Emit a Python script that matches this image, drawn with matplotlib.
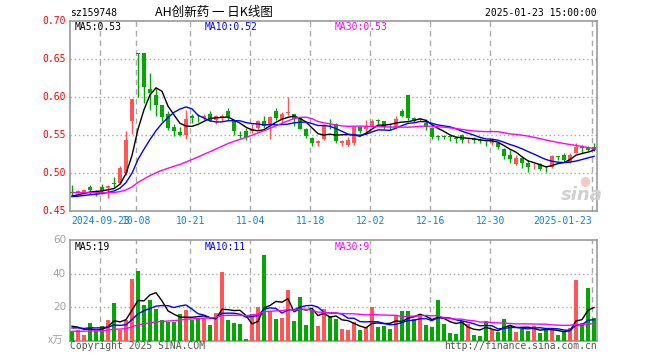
import matplotlib
matplotlib.use("Agg")
import matplotlib.pyplot as plt
import numpy as np
import pandas as pd

# 日K数据 (2024-09-12 .. 2025-01-23)
opens = [0.475, 0.474, 0.474, 0.482, 0.476, 0.482, 0.480, 0.487, 0.487, 0.500,
         0.568, 0.657, 0.657, 0.610, 0.602, 0.589, 0.578, 0.561, 0.554, 0.550,
         0.575, 0.573, 0.572, 0.578, 0.570, 0.572, 0.581, 0.569, 0.550, 0.555,
         0.555, 0.559, 0.569, 0.564, 0.581, 0.571, 0.579, 0.577, 0.572, 0.558,
         0.546, 0.539, 0.545, 0.565, 0.564, 0.539, 0.537, 0.539, 0.560, 0.558,
         0.562, 0.570, 0.568, 0.561, 0.559, 0.581, 0.602, 0.572, 0.570, 0.566,
         0.559, 0.549, 0.549, 0.549, 0.546, 0.550, 0.543, 0.545, 0.543, 0.540,
         0.539, 0.539, 0.532, 0.524, 0.512, 0.520, 0.514, 0.509, 0.512, 0.506,
         0.508, 0.522, 0.524, 0.515, 0.527, 0.534, 0.533, 0.534]
highs = [0.484, 0.478, 0.479, 0.484, 0.478, 0.486, 0.484, 0.495, 0.509, 0.555,
         0.597, 0.657, 0.658, 0.632, 0.612, 0.590, 0.581, 0.564, 0.561, 0.583,
         0.578, 0.578, 0.578, 0.581, 0.576, 0.578, 0.586, 0.570, 0.555, 0.559,
         0.564, 0.570, 0.575, 0.575, 0.586, 0.580, 0.600, 0.578, 0.574, 0.559,
         0.548, 0.544, 0.564, 0.571, 0.566, 0.544, 0.548, 0.562, 0.562, 0.570,
         0.571, 0.571, 0.568, 0.564, 0.575, 0.584, 0.602, 0.574, 0.573, 0.571,
         0.560, 0.550, 0.550, 0.550, 0.549, 0.552, 0.546, 0.548, 0.546, 0.542,
         0.545, 0.540, 0.533, 0.530, 0.524, 0.522, 0.517, 0.513, 0.514, 0.509,
         0.524, 0.522, 0.527, 0.526, 0.540, 0.537, 0.536, 0.539]
lows = [0.470, 0.471, 0.473, 0.473, 0.470, 0.473, 0.468, 0.482, 0.486, 0.498,
        0.552, 0.600, 0.592, 0.583, 0.575, 0.568, 0.556, 0.549, 0.549, 0.545,
        0.566, 0.567, 0.570, 0.568, 0.564, 0.569, 0.570, 0.550, 0.546, 0.544,
        0.553, 0.557, 0.559, 0.545, 0.570, 0.566, 0.575, 0.562, 0.558, 0.546,
        0.536, 0.536, 0.543, 0.558, 0.540, 0.536, 0.535, 0.537, 0.553, 0.552,
        0.560, 0.564, 0.558, 0.557, 0.559, 0.574, 0.570, 0.567, 0.568, 0.556,
        0.545, 0.544, 0.545, 0.542, 0.540, 0.539, 0.540, 0.540, 0.540, 0.536,
        0.537, 0.532, 0.518, 0.514, 0.511, 0.507, 0.501, 0.505, 0.504, 0.501,
        0.507, 0.517, 0.515, 0.514, 0.526, 0.527, 0.529, 0.529]
closes = [0.474, 0.476, 0.478, 0.478, 0.474, 0.478, 0.483, 0.486, 0.507, 0.543,
          0.597, 0.656, 0.613, 0.605, 0.589, 0.574, 0.559, 0.555, 0.550, 0.571,
          0.572, 0.572, 0.575, 0.569, 0.575, 0.575, 0.574, 0.555, 0.549, 0.548,
          0.558, 0.568, 0.562, 0.574, 0.572, 0.578, 0.580, 0.571, 0.558, 0.549,
          0.539, 0.542, 0.562, 0.564, 0.542, 0.542, 0.543, 0.560, 0.555, 0.562,
          0.569, 0.569, 0.560, 0.560, 0.571, 0.575, 0.572, 0.568, 0.571, 0.560,
          0.547, 0.548, 0.548, 0.548, 0.545, 0.544, 0.544, 0.544, 0.542, 0.539,
          0.544, 0.534, 0.522, 0.518, 0.520, 0.513, 0.508, 0.510, 0.505, 0.505,
          0.522, 0.521, 0.517, 0.524, 0.534, 0.533, 0.530, 0.530]
volumes = [6.0, 6.4, 3.4, 10.5, 5.6, 8.8, 12.4, 22.5, 6.6, 12.4,
           37.0, 41.3, 21.4, 24.4, 19.0, 12.6, 11.4, 11.4, 16.0, 18.4,
           12.6, 13.4, 13.4, 9.4, 16.6, 40.7, 12.4, 10.7, 10.2, 0.8,
           15.9, 19.9, 50.8, 17.6, 12.9, 13.5, 30.4, 11.8, 26.2, 9.4,
           18.4, 8.9, 18.9, 14.6, 12.9, 6.9, 6.4, 10.9, 6.4, 7.9,
           19.8, 7.9, 9.0, 7.0, 15.2, 17.9, 17.9, 13.2, 14.6, 9.4,
           8.0, 24.4, 10.0, 4.8, 4.0, 11.8, 10.0, 3.4, 2.8, 11.8,
           6.4, 5.4, 12.8, 9.4, 5.4, 6.8, 6.0, 8.8, 4.4, 7.4,
           6.4, 3.4, 5.4, 7.4, 36.0, 10.5, 31.5, 13.5]

# 窗口之前的数据, 仅用于均线
prior_closes = [0.478, 0.479, 0.477, 0.478, 0.480, 0.479, 0.478, 0.477, 0.476, 0.477,
                0.478, 0.477, 0.476, 0.477, 0.478, 0.477, 0.476, 0.477, 0.476, 0.475,
                0.471, 0.469, 0.468, 0.467, 0.468, 0.468, 0.469, 0.469, 0.470]
prior_volumes = [4, 5, 4, 5, 4, 5, 5, 4, 5, 4, 5, 4, 5, 4, 5, 4, 5, 4, 5, 6,
                 6, 7, 6, 7, 7, 9, 10, 9, 9]

date_ticks = [5, 11, 20, 30, 40, 50, 60, 70, 87]
date_labels = ["2024-09-23", "10-08", "10-21", "11-04", "11-18",
               "12-02", "12-16", "12-30", "2025-01-23"]
price_ticks = [0.45, 0.50, 0.55, 0.60, 0.65, 0.70]
vol_ticks = [20, 40, 60]

RED = "#ff5555"
GREEN = "#00a800"
GRID = "#aaaaaa"
MONO = "DejaVu Sans Mono"

W, H = 660, 360
fig = plt.figure(figsize=(W / 100, H / 100), dpi=100)


def axes_px(l, t, r, b):
    return fig.add_axes([l / W, 1 - b / H, (r - l) / W, (b - t) / H])


def ftext(x, y, s, **kw):
    fig.text(x / W, 1 - y / H, s, **kw)


o = np.array(opens)
h = np.array(highs)
l = np.array(lows)
c = np.array(closes)
v = np.array(volumes)
n = len(c)
x = np.arange(n)
cols = np.where(c >= o, RED, GREEN)

npre = len(prior_closes)
allc = pd.Series(prior_closes + closes)
allv = pd.Series(prior_volumes + volumes)
ma_colors = {5: "black", 10: "#0000ff", 30: "#ff00ff"}

gx = [t - 0.28 for t in date_ticks]
xl = (-0.333, 87.5)

# ---- 价格 ----
ax = axes_px(70, 20.7, 597, 211.3)
ax.set_xlim(*xl)
ax.set_ylim(0.45, 0.70)
for p in price_ticks[1:-1]:
    ax.axhline(p, color=GRID, lw=1, ls=(0, (1, 2)), zorder=0)
for g in gx:
    ax.axvline(g, color=GRID, lw=1, ls=(0, (4, 3)), zorder=0)
ax.vlines(x, l, h, colors=cols, lw=1, zorder=2)
ax.bar(x, np.maximum(np.abs(c - o), 0.0009), bottom=np.minimum(o, c),
       width=0.75, color=cols, linewidth=0, zorder=3)
for k, col in ma_colors.items():
    ax.plot(x, allc.rolling(k).mean().values[npre:], color=col, lw=1, zorder=4)

ax.set_xticks([])
ax.set_yticks([])
for s in ax.spines.values():
    s.set_color("#999999")
    s.set_linewidth(1.2)
for p in price_ticks:
    ax.text(-4 / 527, p, f"{p:.2f}", transform=ax.get_yaxis_transform(),
            ha="right", va="center", color="red", fontsize=7, family=MONO)
for i, (g, lab) in enumerate(zip(gx, date_labels)):
    ax.text(g, -0.052, lab, transform=ax.get_xaxis_transform(),
            ha="right" if i == len(gx) - 1 else "center", va="center",
            color="#1080d0", fontsize=7, family=MONO)

# 新浪水印
ftext(582, 195, "sina", ha="center", va="center", fontsize=13,
      fontweight="bold", style="italic", color="#d0d0d0", family="DejaVu Sans")
ftext(585, 181, "●", ha="center", va="center", fontsize=9, color="#f5c8c8")

# ---- 成交量 ----
axv = axes_px(70, 240, 597, 340.7)
axv.set_xlim(*xl)
axv.set_ylim(0, 60)
for t in vol_ticks[:-1]:
    axv.axhline(t, color=GRID, lw=1, ls=(0, (1, 2)), zorder=0)
for g in gx:
    axv.axvline(g, color=GRID, lw=1, ls=(0, (4, 3)), zorder=0)
axv.bar(x, v, width=0.75, color=cols, linewidth=0, zorder=3)
for k, col in ma_colors.items():
    axv.plot(x, allv.rolling(k).mean().values[npre:], color=col, lw=1, zorder=4)
axv.set_xticks([])
axv.set_yticks([])
for s in axv.spines.values():
    s.set_color("#999999")
    s.set_linewidth(1.2)
for t in vol_ticks:
    axv.text(-4 / 527, t, str(t), transform=axv.get_yaxis_transform(),
             ha="right", va="center", color="#a0a0a0", fontsize=7.5)
ftext(56, 341, "x万", ha="center", va="center", color="#a0a0a0", fontsize=7.5,
      family=["Noto Sans CJK SC", "DejaVu Sans"])

# ---- 文字 ----
ftext(70, 13, "sz159748", ha="left", va="center", fontsize=7, family=MONO)
ftext(214, 12.5, "AH创新药 一 日K线图", ha="center", va="center", fontsize=9,
      family=["Noto Sans CJK SC", "DejaVu Sans"])
ftext(597, 13, "2025-01-23 15:00:00", ha="right", va="center", fontsize=7, family=MONO)

for xp, s, col in [(75, "MA5:0.53", "black"), (205, "MA10:0.52", "#0000ff"),
                   (335, "MA30:0.53", "#ff00ff")]:
    ftext(xp, 26.5, s, ha="left", va="center", color=col, fontsize=7, family=MONO)
for xp, s, col in [(75, "MA5:19", "black"), (205, "MA10:11", "#0000ff"),
                   (335, "MA30:9", "#ff00ff")]:
    ftext(xp, 246.5, s, ha="left", va="center", color=col, fontsize=7, family=MONO)

ftext(70, 346, "Copyright 2025 SINA.COM", ha="left", va="center",
      color="#555555", fontsize=7, family=MONO)
ftext(597, 346, "http://finance.sina.com.cn", ha="right", va="center",
      color="#555555", fontsize=7, family=MONO)

fig.savefig("out.png", dpi=100)
